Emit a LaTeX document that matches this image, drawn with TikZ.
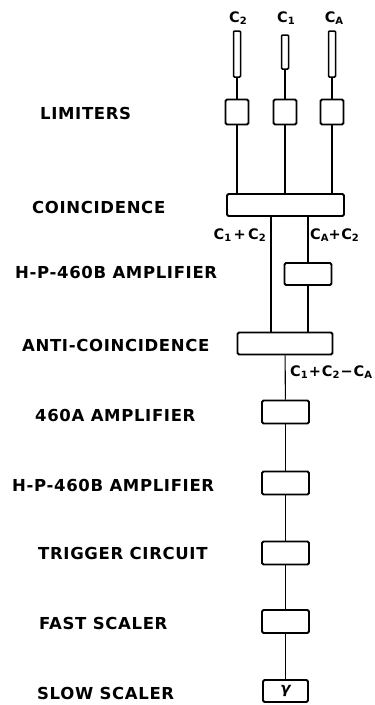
\documentclass[tikz,border=0pt]{standalone}
\usepackage{fontspec}
\setmainfont{DejaVu Sans}[LetterSpace=4]
\usetikzlibrary{positioning, calc}
\newcommand{\sub}[1]{\raisebox{-2.5pt}{\fontsize{10}{10}\selectfont #1}}

\begin{document}
\begin{tikzpicture}[
    x=1pt, y=-1pt,
    box/.style={draw, line width=1.8pt, rounded corners=1.5pt, inner sep=0pt, minimum width=47pt, minimum height=23pt},
    tube/.style={draw, line width=1.5pt, rounded corners=1pt, inner sep=0pt, minimum width=7pt},
    limbox/.style={box, minimum width=23pt, minimum height=25pt},
    widebox/.style={box, minimum height=22pt},
    lbl/.style={anchor=west, inner sep=0pt, font=\bfseries\fontsize{16.5}{17}\selectfont},
    sig/.style={inner sep=0pt, font=\bfseries\fontsize{14.5}{16}\selectfont},
    wire/.style={line width=1.1pt}
]
    \useasboundingbox (0,0) rectangle (375,705);

    % counters
    \node[sig] (c2lab) at (238,18) {C\sub{2}};
    \node[sig] (c1lab) at (286,18) {C\sub{1}};
    \node[sig] (calab) at (334,18) {C\sub{A}};
    \node[tube, minimum height=46pt] (c2tube) at (237,54) {};
    \node[tube, minimum height=34pt] (c1tube) at (285,52) {};
    \node[tube, minimum height=46pt] (catube) at (332,54) {};

    % limiters
    \node[limbox] (c2lim) at (237,112) {};
    \node[limbox] (c1lim) at (285,112) {};
    \node[limbox] (calim) at (332,112) {};

    \node[widebox, minimum width=117pt] (coinc) at (285.5,205) {};
    \node[widebox] (hpamp) at (308,274) {};
    \node[widebox, minimum width=95pt] (anticoinc) at (285,343.5) {};

    % main chain
    \node[box] (amp460a) at (285.5,412) {};
    \node[box] (amp460b) at (285.5,483) {};
    \node[box] (trigger) at (285.5,553) {};
    \node[box] (fastsc) at (285.5,621.5) {};
    \node[box, minimum width=45pt, minimum height=22pt, font=\bfseries\itshape\fontsize{15}{15}\selectfont] (slowsc) at (285.5,691) {γ};

    % labels
    \node[lbl] (limlab) at (40,113) {LIMITERS};
    \node[lbl] (coinclab) at (32,207) {COINCIDENCE};
    \node[lbl] (hplab) at (15,272) {H-P-460B AMPLIFIER};
    \node[lbl] (antilab) at (22,345) {ANTI-COINCIDENCE};
    \node[lbl] (alab) at (35,415) {460A AMPLIFIER};
    \node[lbl] (blab) at (12,485) {H-P-460B AMPLIFIER};
    \node[lbl] (triglab) at (38,553) {TRIGGER CIRCUIT};
    \node[lbl] (fastlab) at (39,623) {FAST SCALER};
    \node[lbl] (slowlab) at (37,693) {SLOW SCALER};

    \draw[wire] (c2tube) -- (c2lim);
    \draw[wire] (c1tube) -- (c1lim);
    \draw[wire] (catube) -- (calim);
    \draw[wire] (c2lim.south) -- (c2lim.south |- coinc.north);
    \draw[wire] (c1lim.south) -- (c1lim.south |- coinc.north);
    \draw[wire] (calim.south) -- (calim.south |- coinc.north);
    \draw[wire] ([xshift=-14pt]anticoinc.north |- coinc.south) -- ([xshift=-14pt]anticoinc.north);
    \draw[wire] (hpamp.north |- coinc.south) -- (hpamp.north);
    \draw[wire] (hpamp.south) -- (hpamp.south |- anticoinc.north);
    \draw[wire] (anticoinc) -- (amp460a);
    \draw[wire] (amp460a) -- (amp460b);
    \draw[wire] (amp460b) -- (trigger);
    \draw[wire] (trigger) -- (fastsc);
    \draw[wire] (fastsc) -- (slowsc);

    \node[sig, anchor=east] (sumlab) at (266,235) {C\sub{1}\,+\,C\sub{2}};
    \node[sig, anchor=west] (alab2) at (310,235) {C\sub{A}+C\sub{2}};
    \node[sig, anchor=west] (difflab) at (290,372) {C\sub{1}\hspace{1pt}+\hspace{1pt}C\sub{2}\hspace{1pt}−\hspace{1pt}C\sub{A}};
\end{tikzpicture}
\end{document}
